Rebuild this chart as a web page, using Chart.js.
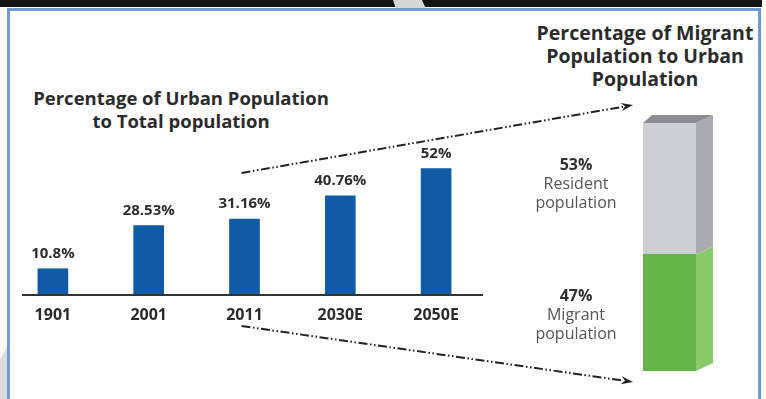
<!DOCTYPE html>
<html>
<head>
<meta charset="utf-8">
<script src="https://cdn.jsdelivr.net/npm/chart.js@4.4.1/dist/chart.umd.min.js"></script>
<style>
  html, body { margin: 0; padding: 0; background: #fff; }
  body { width: 766px; height: 399px; position: relative; overflow: hidden; font-family: "Open Sans", Lato, sans-serif; }
  .band { position: absolute; left: 0; top: 0; width: 762px; height: 7px; background: #141414; }
  .smudge { position: absolute; left: 393px; top: 0; width: 33px; height: 9px; background: #d7d7d7;
            clip-path: polygon(0 0, 29px 0, 33px 9px, 3px 9px); }
  .smudge2 { position: absolute; left: 0; top: 345px; width: 8px; height: 54px; background: #dcdcdc;
             clip-path: polygon(0 14px, 8px 0, 8px 54px, 0 54px); }
  .frame { position: absolute; left: 7px; top: 8px; width: 748px; height: 420px; border: 3px solid #6f9ad3; }
  canvas { position: absolute; left: 0; top: 0; }
  .title { position: absolute; text-align: center; font-weight: 700; line-height: 23px; color: #2b2b2b; }
</style>
</head>
<body>
<div class="band"></div>
<div class="smudge"></div>
<div class="smudge2"></div>
<div class="frame"></div>
<div class="title" style="left:-19px; width:400px; top:86px; font-size:18.5px;">Percentage of Urban Population<br>to Total population</div>
<div class="title" style="left:495px; width:300px; top:21px; font-size:19.5px;">Percentage of Migrant<br>Population to Urban<br>Population</div>
<canvas id="urbanChart" width="766" height="399"></canvas>
<canvas id="migrantChart" width="766" height="399"></canvas>
<script>
// urbanisation (left bars)
const years = ['1901', '2001', '2011', '2030E', '2050E'];
const urbanShare = [10.8, 28.53, 31.16, 40.76, 52];

// migrant share of urban population (right stacked bar)
const segmentNames = ['Migrant population', 'Resident population'];
const segmentShare = [47, 53];

const barBlue = '#0f5ba6';
const frontColors = ['#63b549', '#cdcfd3'];
const sideColors = ['#87cc66', '#a9abaf'];
const topColor = '#8b8d91';
const fontFamily = '"Open Sans"';

// nhãn giá trị + đường trục + mũi tên
const urbanExtras = {
    id: 'urbanExtras',
    afterDatasetsDraw(chart) {
        const ctx = chart.ctx;
        const meta = chart.getDatasetMeta(0);
        const y0 = chart.scales.y.getPixelForValue(0);
        ctx.save();
        ctx.font = 'bold 15px ' + fontFamily;
        ctx.fillStyle = '#2e2e2e';
        ctx.textAlign = 'center';
        ctx.textBaseline = 'middle';
        meta.data.forEach((bar, i) => {
            ctx.fillText(urbanShare[i] + '%', bar.x, bar.y - 15);
        });

        ctx.strokeStyle = '#333';
        ctx.lineWidth = 2;
        ctx.beginPath();
        ctx.moveTo(22, y0);
        ctx.lineTo(483, y0);
        ctx.stroke();

        const from = meta.data[2].x - 3;
        drawArrow(ctx, from, 173, 633, 105);
        drawArrow(ctx, from, 326, 633, 382);
        ctx.restore();
    }
};

function drawArrow(ctx, x1, y1, x2, y2) {
    const ang = Math.atan2(y2 - y1, x2 - x1);
    const hx = x2 - 10 * Math.cos(ang), hy = y2 - 10 * Math.sin(ang);
    ctx.save();
    ctx.strokeStyle = '#222';
    ctx.fillStyle = '#222';
    ctx.lineWidth = 2;
    ctx.setLineDash([9, 2.5, 1.6, 2.5, 1.6, 2.5]);
    ctx.beginPath();
    ctx.moveTo(x1, y1);
    ctx.lineTo(hx, hy);
    ctx.stroke();
    ctx.setLineDash([]);
    ctx.beginPath();
    ctx.moveTo(x2, y2);
    ctx.lineTo(hx - 4 * Math.sin(ang) - 2 * Math.cos(ang), hy + 4 * Math.cos(ang) - 2 * Math.sin(ang));
    ctx.lineTo(hx + 2 * Math.cos(ang), hy + 2 * Math.sin(ang));
    ctx.lineTo(hx + 4 * Math.sin(ang) - 2 * Math.cos(ang), hy - 4 * Math.cos(ang) - 2 * Math.sin(ang));
    ctx.closePath();
    ctx.fill();
    ctx.restore();
}

new Chart(document.getElementById('urbanChart').getContext('2d'), {
    type: 'bar',
    data: {
        labels: years,
        datasets: [{
            data: urbanShare,
            backgroundColor: barBlue,
            barThickness: 30,
        }],
    },
    options: {
        responsive: false,
        animation: false,
        layout: { padding: { left: 5, right: 282, top: 149, bottom: 0 } },
        plugins: { legend: { display: false }, tooltip: { enabled: false } },
        scales: {
            x: {
                grid: { display: false, drawTicks: false },
                border: { display: false },
                ticks: { font: { family: fontFamily, weight: 'bold', size: 16 }, color: '#2b2b2b', padding: 11 },
                afterFit: (scale) => { scale.height = 104; }
            },
            y: { display: false, min: 0, max: 60 }
        }
    },
    plugins: [urbanExtras]
});

// khối 3D + nhãn cho cột chồng
const migrantExtras = {
    id: 'migrantExtras',
    afterDatasetsDraw(chart) {
        const ctx = chart.ctx;
        ctx.save();
        chart.data.datasets.forEach((ds, i) => {
            const el = chart.getDatasetMeta(i).data[0];
            const left = el.x - el.width / 2, right = el.x + el.width / 2;
            const top = el.y, bottom = el.base;
            ctx.fillStyle = sideColors[i];
            ctx.beginPath();
            ctx.moveTo(right, top);
            ctx.lineTo(right + 17, top - 8);
            ctx.lineTo(right + 17, bottom - 8);
            ctx.lineTo(right, bottom);
            ctx.closePath();
            ctx.fill();
            if (i === chart.data.datasets.length - 1) {
                ctx.fillStyle = topColor;
                ctx.beginPath();
                ctx.moveTo(left, top);
                ctx.lineTo(left + 9, top - 8);
                ctx.lineTo(right + 17, top - 8);
                ctx.lineTo(right, top);
                ctx.closePath();
                ctx.fill();
            }
            const words = segmentNames[i].split(' ');
            const cx = left - 67;
            ctx.textAlign = 'center';
            ctx.textBaseline = 'middle';
            ctx.fillStyle = '#2e2e2e';
            ctx.font = 'bold 16px ' + fontFamily;
            ctx.fillText(segmentShare[i] + '%', cx, top + 42);
            ctx.fillStyle = '#555';
            ctx.font = '16px ' + fontFamily;
            words.forEach((w, k) => ctx.fillText(w, cx, top + 61 + k * 19));
        });
        ctx.restore();
    }
};

new Chart(document.getElementById('migrantChart').getContext('2d'), {
    type: 'bar',
    data: {
        labels: [''],
        datasets: segmentNames.map((name, i) => ({
            label: name,
            data: [segmentShare[i]],
            backgroundColor: frontColors[i],
            barPercentage: 1,
            categoryPercentage: 1,
        })),
    },
    options: {
        responsive: false,
        animation: false,
        layout: { padding: { left: 643, right: 70, top: 123, bottom: 28 } },
        plugins: { legend: { display: false }, tooltip: { enabled: false } },
        scales: {
            x: { display: false, stacked: true },
            y: { display: false, stacked: true, min: 0, max: 100 }
        }
    },
    plugins: [migrantExtras]
});
</script>
</body>
</html>
